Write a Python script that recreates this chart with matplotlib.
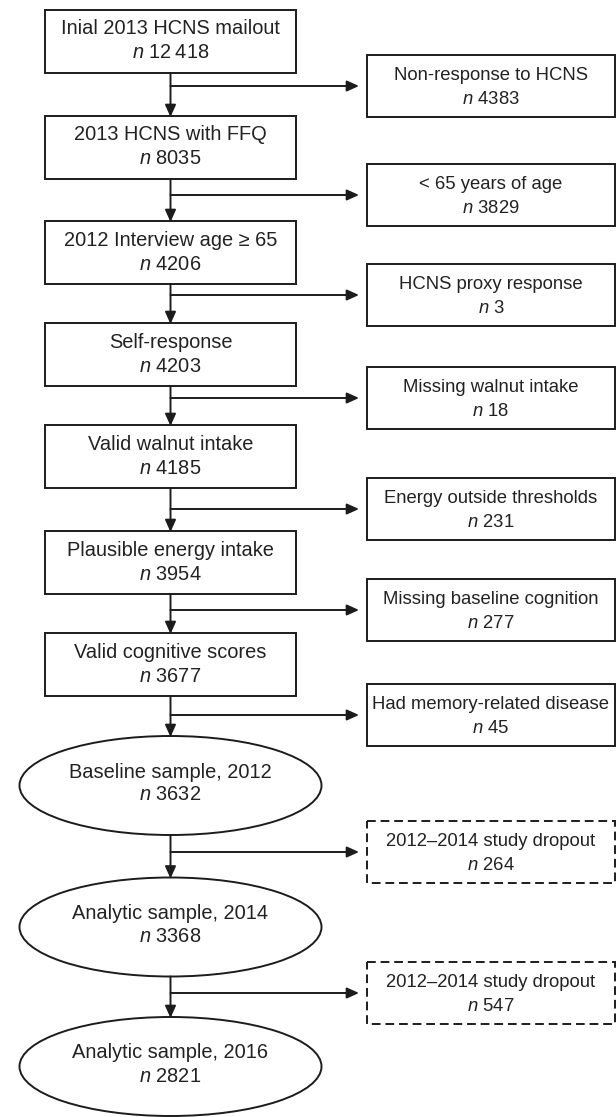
import matplotlib
matplotlib.use("Agg")
import matplotlib.pyplot as plt
from matplotlib.patches import Rectangle, Ellipse, FancyArrowPatch, ArrowStyle

plt.rcParams['font.family'] = ['Liberation Sans', 'DejaVu Sans']
plt.rcParams['mathtext.fontset'] = 'custom'
plt.rcParams['mathtext.rm'] = 'Liberation Sans'
plt.rcParams['mathtext.it'] = 'Liberation Sans:italic'

# ---- data ----
main_labels = ["Inial 2013 HCNS mailout", "2013 HCNS with FFQ", "2012 Interview age \u2265 65",
               "Self-response", "Valid walnut intake", "Plausible energy intake",
               "Valid cognitive scores", "Baseline sample, 2012", "Analytic sample, 2014",
               "Analytic sample, 2016"]
main_n = ["12\u2009418", "8035", "4206", "4203", "4185", "3954", "3677", "3632", "3368", "2821"]
main_shape = ["box"] * 7 + ["ellipse"] * 3

excl_labels = ["Non-response to HCNS", "< 65 years of age", "HCNS proxy response",
               "Missing walnut intake", "Energy outside thresholds",
               "Missing baseline cognition", "Had memory-related disease",
               "2012\u20132014 study dropout", "2012\u20132014 study dropout"]
excl_n = ["4383", "3829", "3", "18", "231", "277", "45", "264", "547"]
excl_dashed = [False] * 7 + [True] * 2

# ---- layout (pixels) ----
W, H = 616, 1117
main_cx = 170.5
box_w, box_h = 251, 63
box_tops = [10, 116, 221, 323, 425, 531, 633]
ell_w, ell_h = 302, 99
ell_cy = [785.5, 927, 1066.5]
ex_left, ex_right = 367, 615
ex_h = 62
ex_tops = [55, 164, 264, 367, 478, 579, 684, 821, 962]
arrow_tip_x = 359

col = "#1c1c1c"
txt_col = "#222222"
fs_main = 14.4
fs_ex = 13.3
lw = 1.4

fig = plt.figure(figsize=(W / 100, H / 100), dpi=100)
ax = fig.add_axes([0, 0, 1, 1])
ax.set_xlim(0, W)
ax.set_ylim(H, 0)
ax.axis("off")

def two_lines(cx, cy, label, n, d1, d2, fs):
    ax.text(cx, cy + d1, label, ha="center", va="baseline", fontsize=fs, color=txt_col)
    ax.text(cx, cy + d2, r"$\it{n}$ " + n, ha="center", va="baseline", fontsize=fs, color=txt_col)

ahead = ArrowStyle("-|>", head_length=0.6, head_width=0.27)

def arrow(x0, y0, x1, y1):
    ax.add_patch(FancyArrowPatch((x0, y0), (x1, y1), arrowstyle=ahead, mutation_scale=12,
                                 color=col, lw=lw, shrinkA=0, shrinkB=0))

# main column
tops, bottoms = [], []
ei = 0
bi = 0
for lab, n, shp in zip(main_labels, main_n, main_shape):
    if shp == "box":
        t = box_tops[bi]; bi += 1
        ax.add_patch(Rectangle((main_cx - box_w / 2, t), box_w, box_h, fill=False, ec=col, lw=lw))
        cy = t + box_h / 2
        tops.append(t); bottoms.append(t + box_h)
        two_lines(main_cx, cy, lab, n, -7, 17, fs_main)
    else:
        cy = ell_cy[ei]; ei += 1
        ax.add_patch(Ellipse((main_cx, cy), ell_w, ell_h, fill=False, ec=col, lw=lw))
        tops.append(cy - ell_h / 2); bottoms.append(cy + ell_h / 2)
        two_lines(main_cx, cy, lab, n, -8, 15, fs_main)

# vertical arrows between main shapes
for i in range(len(main_labels) - 1):
    arrow(main_cx, bottoms[i], main_cx, tops[i + 1] + 1)

# exclusion boxes
for i, (lab, n, dsh) in enumerate(zip(excl_labels, excl_n, excl_dashed)):
    t = ex_tops[i]
    ax.add_patch(Rectangle((ex_left, t), ex_right - ex_left, ex_h, fill=False, ec=col, lw=lw,
                           ls=(0, (4.5, 2.5)) if dsh else "-"))
    cy = t + ex_h / 2
    two_lines((ex_left + ex_right) / 2, cy, lab, n, -6, 18, fs_ex)
    arrow(main_cx, cy, arrow_tip_x, cy)

fig.savefig("out.png", dpi=100, facecolor="white")
